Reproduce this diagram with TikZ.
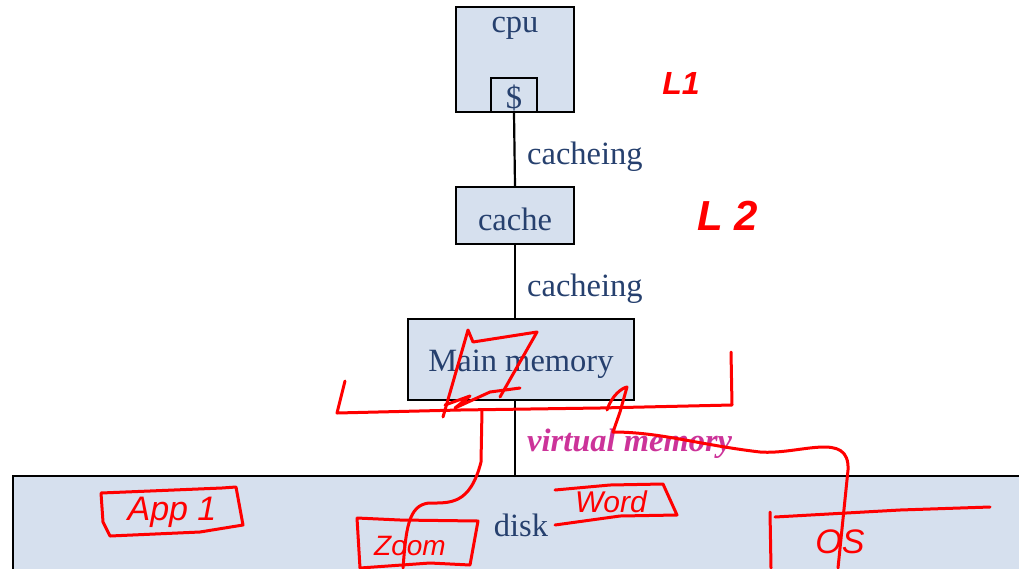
\documentclass[tikz,border=0pt]{standalone}
\usepackage{fontspec}
\setmainfont{Liberation Serif}
\newfontfamily\handfont{Liberation Sans}
\definecolor{boxfill}{RGB}{214,224,238}
\definecolor{labelblue}{RGB}{38,64,110}
\definecolor{vmpink}{RGB}{204,51,153}
\definecolor{ink}{RGB}{255,0,0}
\begin{document}
\begin{tikzpicture}[x=1pt,y=-1pt,
  unitbox/.style={draw=black,line width=2pt,fill=boxfill,inner sep=0pt},
  unittext/.style={text=labelblue,inner sep=0pt,font=\fontsize{32.5}{38}\selectfont},
  linktext/.style={unittext,anchor=west},
  link/.style={draw=black,line width=2.2pt},
  pen/.style={draw=ink,line width=3pt,line cap=round,line join=round},
  handtext/.style={text=ink,inner sep=0pt,font=\handfont\itshape\fontsize{34}{38}\selectfont}]
\useasboundingbox (0,0) rectangle (1019,568);
\clip (0,0) rectangle (1019,568);

% storage hierarchy
\node[unitbox,minimum width=118pt,minimum height=105pt] (cpu) at (515,59.5) {};
\node[unittext] (cpulabel) at (515,28) {cpu};
\node[unitbox,minimum width=46pt,minimum height=34pt] (dollar) at (514,95) {};
\node[unittext] (dollarlabel) at (514,98) {\$};
\node[unitbox,minimum width=118pt,minimum height=57pt] (cache) at (515,215.5) {};
\node[unittext] (cachelabel) at (515,219) {cache};
\node[unitbox,minimum width=226pt,minimum height=81pt] (mm) at (521,359.5) {};
\node[unittext] (mmlabel) at (521,364) {Main memory};
\node[unitbox,minimum width=1030pt,minimum height=130pt,anchor=north west] (disk) at (12,475) {};
\node[unittext] (disklabel) at (521,525) {disk};

% links between the levels
\draw[link] (dollar.south) -- (cache.north);
\draw[link] (cache.south) -- (cache.south |- mm.north);
\draw[link] (cache.south |- mm.south) -- (cache.south |- disk.north);
\node[linktext] (c1) at (527,157) {cacheing};
\node[linktext] (c2) at (527,289) {cacheing};
\node[linktext,text=vmpink,font=\fontsize{32.5}{38}\selectfont\bfseries\itshape] (vm) at (527,444) {virtual memory};

% pen annotations
\node[handtext,font=\handfont\bfseries\itshape\fontsize{32}{36}\selectfont] (l1) at (681,83) {L1};
\node[handtext,font=\handfont\bfseries\itshape\fontsize{42}{46}\selectfont] (l2) at (728,216) {L 2};

\draw[pen] (345,381) -- (337,413) -- (460,410) -- (600,408) -- (732,405) -- (731,352);
\draw[pen] (403,568) .. controls (406,530) and (408,505) .. (429,503)
  .. controls (450,503) and (470,505) .. (481,462) -- (482,410);
\draw[pen] (443,417) -- (468,330) -- (473,342) -- (537,332) -- (500,397);
\draw[pen] (445,405) -- (470,396) -- (455,408) -- (490,392) -- (520,388);
\draw[pen] (607,410) .. controls (612,395) and (622,388) .. (627,387) -- (620,412)
  -- (613,432) .. controls (660,432) and (700,445) .. (760,452)
  .. controls (800,455) and (850,430) .. (848,470) -- (838,568);

\draw[pen] (101,493) -- (150,491) -- (222,488) -- (236,487) -- (243,525)
  -- (200,532) -- (110,536) -- (103,522) -- (101,493);
\node[handtext] (app) at (172,512) {App 1};
\draw[pen] (357,518) -- (400,520) -- (478,521) -- (470,565) -- (430,563) -- (360,568) -- (357,518);
\node[handtext,font=\handfont\itshape\fontsize{28}{32}\selectfont] (zoomapp) at (410,546) {Zoom};
\draw[pen] (555,490) -- (610,485) -- (663,484) -- (677,515) -- (620,516) -- (555,525);
\node[handtext,font=\handfont\itshape\fontsize{30}{34}\selectfont] (word) at (611,502) {Word};
\draw[pen] (771,568) -- (770,512);
\draw[pen] (775,517) -- (900,510) -- (990,507);
\node[handtext] (os) at (840,542) {OS};
\end{tikzpicture}
\end{document}
